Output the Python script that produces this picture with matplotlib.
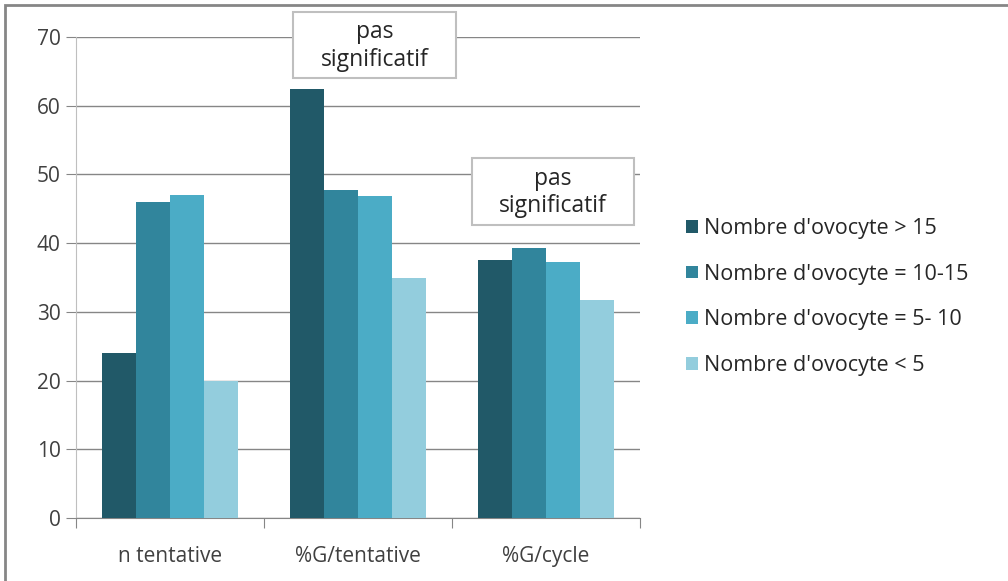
import matplotlib
matplotlib.use("Agg")
import matplotlib.pyplot as plt
from matplotlib.patches import Rectangle, Patch
import numpy as np

# data
categories = ["n tentative", "%G/tentative", "%G/cycle"]
series_names = ["Nombre d'ovocyte > 15", "Nombre d'ovocyte = 10-15",
                "Nombre d'ovocyte = 5- 10", "Nombre d'ovocyte < 5"]
sup15 = [24.0, 62.5, 37.5]
de10a15 = [46.0, 47.8, 39.3]
de5a10 = [47.0, 46.8, 37.3]
inf5 = [20.0, 35.0, 31.7]
colors = ["#215968", "#31859C", "#4BACC6", "#93CDDD"]

plt.rcParams['font.family'] = ['Open Sans', 'DejaVu Sans']
W, H = 1008, 581
fig = plt.figure(figsize=(W / 100, H / 100), dpi=100)
ax = fig.add_axes([76 / W, 1 - 518 / H, (640 - 76) / W, (518 - 37) / H])

x = np.arange(len(categories))
w = 1 / 5.5
for i, vals in enumerate([sup15, de10a15, de5a10, inf5]):
    ax.bar(x + (i - 1.5) * w, vals, w, color=colors[i], zorder=3,
           label=series_names[i])

ax.set_xlim(-0.5, 2.5)
ax.set_ylim(0, 70)
ax.set_yticks(range(0, 71, 10))
ax.yaxis.grid(True, color="#868686", lw=1, zorder=0)
for s in ["top", "right"]:
    ax.spines[s].set_visible(False)
ax.spines["left"].set_color("#bfbfbf")
ax.spines["bottom"].set_color("#868686")
ax.tick_params(axis="y", length=7, color="#868686", labelsize=15,
               labelcolor="#404040", pad=4)
ax.set_xticks([-0.5, 0.5, 1.5, 2.5])
ax.set_xticklabels([])
ax.tick_params(axis="x", which="major", length=7, color="#868686")
ax.set_xticks(x, minor=True)
ax.set_xticklabels(categories, minor=True)
ax.tick_params(axis="x", which="minor", length=0, labelsize=15,
               labelcolor="#404040", pad=20)

# "pas significatif" boxes
for (x0, y0, x1, y1) in [(293, 12, 456, 78), (472, 158, 634, 225)]:
    fig.patches.append(Rectangle((x0 / W, 1 - y1 / H), (x1 - x0) / W, (y1 - y0) / H,
                                 transform=fig.transFigure, facecolor="white",
                                 edgecolor="#bfbfbf", lw=1.5, zorder=5))
    fig.text((x0 + x1) / 2 / W, 1 - (y0 + y1) / 2 / H - 0.002, "pas\nsignificatif",
             ha="center", va="center", fontsize=16.5, color="#262626",
             linespacing=1.2, zorder=6)

handles = [Patch(facecolor=c) for c in colors]
fig.legend(handles, series_names, loc="center left",
           bbox_to_anchor=(667 / W, 1 - 297 / H), frameon=False,
           fontsize=15.5, labelcolor="#262626", handlelength=0.55,
           handleheight=0.55, handletextpad=0.25, labelspacing=1.15)

# outer frame
fig.patches.append(Rectangle((5 / W, -0.1), 1.2, 1 - 5 / H + 0.1,
                             transform=fig.transFigure, fill=False,
                             edgecolor="#868686", lw=2))

fig.savefig("out.png", dpi=100)
